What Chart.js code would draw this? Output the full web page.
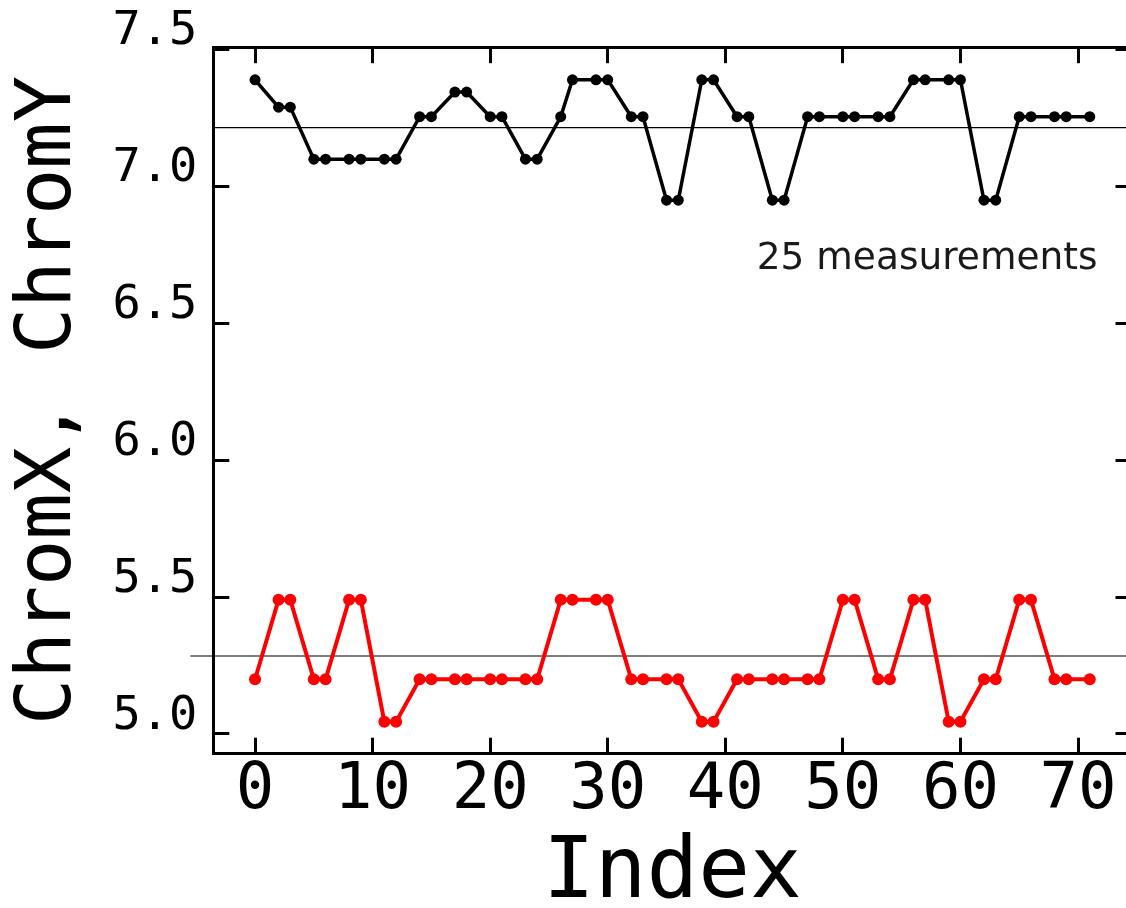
<!DOCTYPE html>
<html><head><meta charset="utf-8">
<script src="https://cdn.jsdelivr.net/npm/chart.js@4/dist/chart.umd.min.js"></script>
<style>
html,body{margin:0;padding:0;background:#fff;overflow:hidden;}
#wrap{position:relative;width:1140px;height:908px;}
</style></head><body>
<div id="wrap"><canvas id="c"></canvas></div>
<script>
// ---- data ----
const indices = [0,2,3,5,6,8,9,11,12,14,15,17,18,20,21,23,24,26,27,29,30,32,33,35,36,38,39,41,42,44,45,47,48,50,51,53,54,56,57,59,60,62,63,65,66,68,69,71];
const chromY = [7.39,7.29,7.29,7.10,7.10,7.10,7.10,7.10,7.10,7.255,7.255,7.345,7.345,7.255,7.255,7.10,7.10,7.255,7.39,7.39,7.39,7.255,7.255,6.95,6.95,7.39,7.39,7.255,7.255,6.95,6.95,7.255,7.255,7.255,7.255,7.255,7.255,7.39,7.39,7.39,7.39,6.95,6.95,7.255,7.255,7.255,7.255,7.255];
const chromX = [5.20,5.49,5.49,5.20,5.20,5.49,5.49,5.045,5.045,5.20,5.20,5.20,5.20,5.20,5.20,5.20,5.20,5.49,5.49,5.49,5.49,5.20,5.20,5.20,5.20,5.045,5.045,5.20,5.20,5.20,5.20,5.20,5.20,5.49,5.49,5.20,5.20,5.49,5.49,5.045,5.045,5.20,5.20,5.49,5.49,5.20,5.20,5.20];
const refValues = [7.215, 5.285];
const refStarts = [-3.55, -5.5];
const refEnd = 76;
const xTicks = [0,10,20,30,40,50,60,70];
const yTicks = [5.0,5.5,6.0,6.5,7.0,7.5];
const xRange = [-3.55, 74.55];
const yRange = [4.928, 7.509];
const xTitle = 'Index';
const yTitle = 'ChromX, ChromY';
const noteText = '25 measurements';

// ---- helpers ----
const MONO = '"DejaVu Sans Mono", monospace';
const setTicks = vals => scale => { scale.ticks = vals.map(v => ({ value: v })); };
const fixSize = (prop, val) => scale => {
  scale[prop] = val;
  scale.paddingLeft = 0; scale.paddingRight = 0; scale.paddingTop = 0; scale.paddingBottom = 0;
};
const gridOpts = { drawOnChartArea: false, drawTicks: true, tickLength: -16, tickWidth: 3, tickColor: '#000' };
const borderOpts = { display: true, width: 3, color: '#000' };

const notePlugin = {
  id: 'note',
  afterDatasetsDraw(chart) {
    const ctx = chart.ctx;
    ctx.save();
    ctx.font = '37.5px "DejaVu Sans"';
    ctx.fillStyle = '#1a1a1a';
    ctx.textAlign = 'right';
    ctx.textBaseline = 'alphabetic';
    ctx.fillText(noteText, chart.chartArea.right - 34, 269);
    ctx.restore();
  }
};

const datasets = [
  { label: 'ChromY', data: indices.map((x, i) => ({ x, y: chromY[i] })), borderColor: '#000', backgroundColor: '#000',
    borderWidth: 3.5, pointRadius: 5.5, pointBorderWidth: 0, pointBackgroundColor: '#000', showLine: true, order: 1 },
  { label: 'ChromX', data: indices.map((x, i) => ({ x, y: chromX[i] })), borderColor: '#ff0000', backgroundColor: '#ff0000',
    borderWidth: 4, pointRadius: 6, pointBorderWidth: 0, pointBackgroundColor: '#ff0000', showLine: true, order: 1 }
];
refValues.forEach((v, i) => datasets.push({
  label: 'ref' + i, data: [{ x: refStarts[i], y: v }, { x: refEnd, y: v }], borderColor: '#000', borderWidth: 1.2,
  pointRadius: 0, showLine: true, clip: false, order: 2
}));

new Chart(document.getElementById('c'), {
  type: 'scatter',
  data: { datasets },
  plugins: [notePlugin],
  options: {
    responsive: true, maintainAspectRatio: false, animation: false, events: [],
    layout: { padding: 0 },
    plugins: { legend: { display: false }, tooltip: { enabled: false } },
    scales: {
      x: {
        type: 'linear', axis: 'x', position: 'bottom', min: xRange[0], max: xRange[1], bounds: 'data',
        afterBuildTicks: setTicks(xTicks), afterFit: fixSize('height', 154.3),
        ticks: { autoSkip: false, maxRotation: 0, color: '#000', padding: 22, font: { family: MONO, size: 64, lineHeight: 1 }, callback: v => String(v) },
        grid: gridOpts, border: borderOpts,
        title: { display: true, text: xTitle, color: '#000', font: { family: MONO, size: 86, lineHeight: 1 }, padding: { top: 0, bottom: -10 } }
      },
      x2: {
        type: 'linear', axis: 'x', position: 'top', min: xRange[0], max: xRange[1], bounds: 'data',
        afterBuildTicks: setTicks(xTicks), afterFit: fixSize('height', 47.2),
        ticks: { display: false }, grid: gridOpts, border: borderOpts
      },
      y: {
        type: 'linear', axis: 'y', position: 'left', min: yRange[0], max: yRange[1], bounds: 'data',
        afterBuildTicks: setTicks(yTicks), afterFit: fixSize('width', 213.3),
        ticks: { autoSkip: false, color: '#000', padding: 32, labelOffset: -17.5, font: { family: MONO, size: 47, lineHeight: 1 }, callback: v => Number(v).toFixed(1) },
        grid: gridOpts, border: borderOpts,
        title: { display: true, text: yTitle, color: '#000', font: { family: MONO, size: 77, lineHeight: 1 }, padding: { top: 11, bottom: 0 } }
      },
      y2: {
        type: 'linear', axis: 'y', position: 'right', min: yRange[0], max: yRange[1], bounds: 'data',
        afterBuildTicks: setTicks(yTicks), afterFit: fixSize('width', 8.5),
        ticks: { display: false }, grid: gridOpts, border: borderOpts
      }
    }
  }
});
</script>
</body></html>
